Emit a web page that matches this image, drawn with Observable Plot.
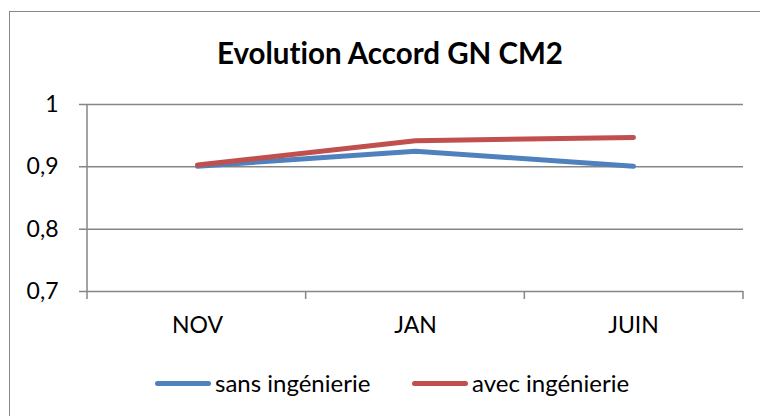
<!DOCTYPE html>
<html>
<head>
<meta charset="utf-8">
<script src="https://cdn.jsdelivr.net/npm/d3@7"></script>
<script src="https://cdn.jsdelivr.net/npm/@observablehq/plot@0.6"></script>
<style>
  body { margin: 0; background: #fff; }
  #wrap { position: relative; width: 760px; height: 416px; overflow: hidden; font-family: Lato, "Open Sans", sans-serif; font-variant-ligatures: none; }
  #frame { position: absolute; left: 9px; top: 11px; width: 800px; height: 500px; border: 1.5px solid #868686; box-sizing: border-box; }
  #title { position: absolute; left: 0; width: 780px; top: 35px; text-align: center; font-weight: bold; font-size: 29.5px; line-height: 36px; color: #000; font-variant-ligatures: none; }
  #chart { position: absolute; left: 0; top: 0; }
  #chart svg { font-variant-ligatures: none; }
  .leg { position: absolute; top: 368px; display: flex; align-items: center; font-size: 24px; line-height: 30px; color: #000; }
  .sw { display: inline-block; width: 56px; height: 5px; border-radius: 3px; margin-right: 4px; }
</style>
</head>
<body>
<div id="wrap">
  <div id="frame"></div>
  <div id="chart"></div>
  <div id="title">Evolution Accord GN CM2</div>
  <div id="legend"></div>
</div>
<script>
const months = ["NOV", "JAN", "JUIN"];
const seriesNames = ["sans ingénierie", "avec ingénierie"];
const sansIngenierie = [0.901, 0.925, 0.901];
const avecIngenierie = [0.903, 0.942, 0.947];
const yTicks = [0.7, 0.8, 0.9, 1];
const colors = ["#4F81BD", "#C0504D"];

const data = [
  ...months.map((m, i) => ({month: m, value: sansIngenierie[i], series: seriesNames[0]})),
  ...months.map((m, i) => ({month: m, value: avecIngenierie[i], series: seriesNames[1]}))
];

const gray = "#868686";

function axisLines(index, scales, values, dim) {
  const g = d3.create("svg:g");
  const x0 = dim.marginLeft, x1 = dim.width - dim.marginRight;
  const y0 = dim.marginTop, y1 = dim.height - dim.marginBottom;
  const n = months.length;
  const step = (x1 - x0) / n;
  g.append("line").attr("x1", x0).attr("x2", x0).attr("y1", y0).attr("y2", y1 + 8)
    .attr("stroke", gray).attr("stroke-width", 1.5);
  for (let i = 1; i <= n; i++) {
    const x = x0 + i * step;
    g.append("line").attr("x1", x).attr("x2", x).attr("y1", y1).attr("y2", y1 + 8)
      .attr("stroke", gray).attr("stroke-width", 1.5);
  }
  return g.node();
}

const chart = Plot.plot({
  width: 760,
  height: 416,
  marginLeft: 87,
  marginRight: 17,
  marginTop: 104,
  marginBottom: 125,
  style: {fontFamily: "Lato, 'Open Sans', sans-serif", background: "transparent", overflow: "visible"},
  x: {type: "point", domain: months, padding: 0.5, axis: null},
  y: {domain: [0.7, 1], axis: null},
  color: {domain: seriesNames, range: colors},
  marks: [
    Plot.ruleY(yTicks, {stroke: gray, strokeWidth: 1.5, strokeOpacity: 1, insetLeft: -8}),
    axisLines,
    Plot.axisY(yTicks, {label: null, tickSize: 0, tickPadding: 29, fontSize: 23, fill: "#000",
      tickFormat: d => String(d).replace(".", ",")}),
    Plot.axisX(months, {label: null, tickSize: 0, tickPadding: 25, fontSize: 23, fill: "#000"}),
    Plot.line(data, {x: "month", y: "value", stroke: "series", z: "series",
      strokeWidth: 5, strokeLinecap: "round", strokeLinejoin: "round"})
  ]
});
document.getElementById("chart").appendChild(chart);

const legend = document.getElementById("legend");
const legLeft = [155, 412];
seriesNames.forEach((name, i) => {
  const item = document.createElement("div");
  item.className = "leg";
  item.style.left = legLeft[i] + "px";
  const sw = document.createElement("span");
  sw.className = "sw";
  sw.style.background = colors[i];
  const t = document.createElement("span");
  t.textContent = name;
  item.appendChild(sw);
  item.appendChild(t);
  legend.appendChild(item);
});
</script>
</body>
</html>
